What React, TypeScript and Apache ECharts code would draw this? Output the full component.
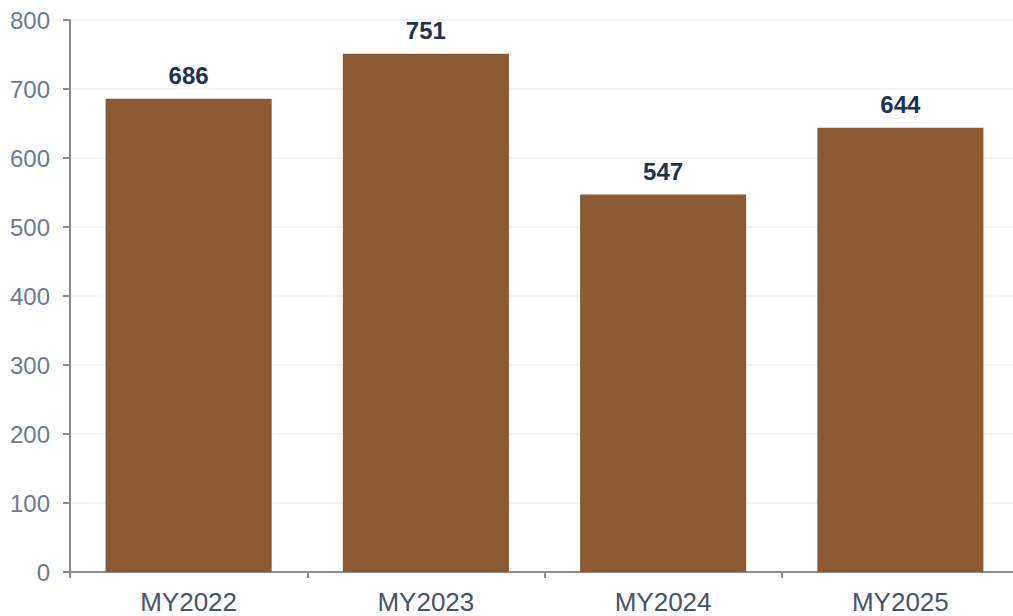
import React, { useEffect, useRef } from "react";
import * as echarts from "echarts";

const categories = ["MY2022", "MY2023", "MY2024", "MY2025"];
const values = [686, 751, 547, 644];
const yTicks = { min: 0, max: 800, interval: 100 };

export default function App() {
  const ref = useRef<HTMLDivElement>(null);
  useEffect(() => {
    if (!ref.current) return;
    const chart = echarts.init(ref.current, null, { renderer: "svg" });
    chart.setOption({
      animation: false,
      grid: { left: 70, right: 0, top: 20, bottom: 44 },
      xAxis: {
        type: "category",
        data: categories,
        axisLine: { show: true, lineStyle: { color: "#8c8c8c", width: 2 } },
        axisTick: { show: true, length: 6, lineStyle: { color: "#8c8c8c", width: 2 } },
        axisLabel: {
          color: "#44546a",
          fontSize: 26,
          fontFamily: "Liberation Sans, Arial, sans-serif",
          margin: 17,
        },
        splitLine: { show: false },
      },
      yAxis: {
        type: "value",
        min: yTicks.min,
        max: yTicks.max,
        interval: yTicks.interval,
        axisLine: { show: true, lineStyle: { color: "#8c8c8c", width: 2 } },
        axisTick: { show: true, length: 7, lineStyle: { color: "#8c8c8c", width: 2 } },
        axisLabel: {
          color: "#6b7a8c",
          fontSize: 24,
          fontFamily: "Liberation Sans, Arial, sans-serif",
          margin: 20,
        },
        splitLine: { show: true, lineStyle: { color: "#eef0f6", width: 1.5 } },
      },
      series: [
        {
          type: "bar",
          data: values,
          barCategoryGap: "30%",
          itemStyle: { color: "#8b5a32" },
          label: {
            show: true,
            position: "top",
            distance: 11,
            color: "#1c3352",
            fontWeight: "bold",
            fontSize: 24,
            fontFamily: "Liberation Sans, Arial, sans-serif",
          },
        },
      ],
    });
    return () => chart.dispose();
  }, []);
  return (
    <div
      style={{
        position: "absolute",
        left: 0,
        top: 0,
        width: 1013,
        height: 616,
        overflow: "hidden",
      }}
    >
      <div ref={ref} style={{ width: 1019, height: 616 }} />
    </div>
  );
}
